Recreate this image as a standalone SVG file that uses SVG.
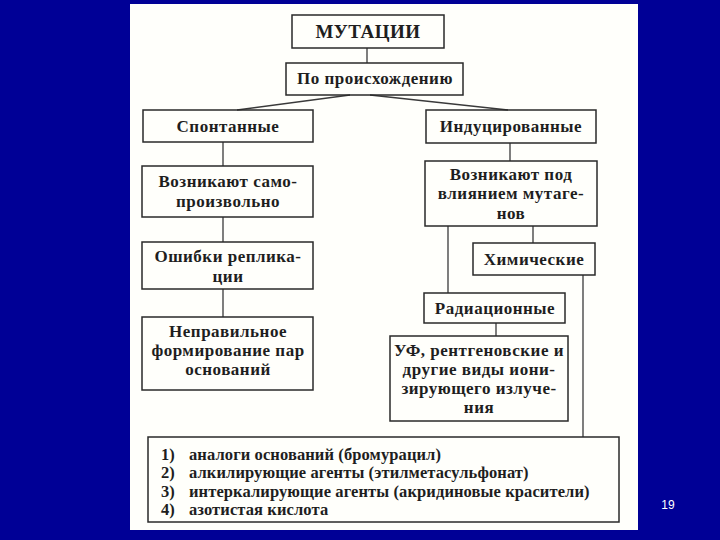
<svg xmlns="http://www.w3.org/2000/svg" width="720" height="540" viewBox="0 0 720 540">
<style>
.bx{fill:none;stroke:#2a2a2a;stroke-width:1.5}
.t{font-family:"Liberation Serif","Times New Roman",serif;font-weight:bold;font-size:17px;letter-spacing:0.5px;fill:#1e1e1e;text-anchor:middle}
.l{font-family:"Liberation Serif","Times New Roman",serif;font-weight:bold;font-size:16.5px;letter-spacing:0.1px;fill:#1e1e1e}
.c{fill:none;stroke:#3a3a3a;stroke-width:1.3}
</style>
<rect x="0" y="0" width="720" height="540" fill="#000096"/>
<rect x="130" y="4" width="508" height="526" fill="#fffffb"/>
<g id="connectors">
<line class="c" x1="367" y1="48" x2="367" y2="63"/>
<line class="c" x1="350" y1="95" x2="237" y2="110"/>
<line class="c" x1="370" y1="95" x2="508" y2="110"/>
<line class="c" x1="223" y1="142" x2="223" y2="166"/>
<line class="c" x1="223" y1="217" x2="223" y2="242"/>
<line class="c" x1="223" y1="289" x2="223" y2="317"/>
<line class="c" x1="510" y1="143" x2="510" y2="161"/>
<line class="c" x1="533" y1="226" x2="533" y2="243"/>
<line class="c" x1="448" y1="226" x2="448" y2="293"/>
<line class="c" x1="583" y1="275" x2="583" y2="437"/>
<line class="c" x1="496" y1="323" x2="496" y2="336"/>
</g>
<g id="mutacii"><rect class="bx" x="292" y="15" width="152" height="33"/><text class="t" x="368" y="38" style="font-size:19px">МУТАЦИИ</text></g>
<g id="proiskhozhdenie"><rect class="bx" x="286" y="63" width="177" height="32"/><text class="t" x="375" y="84">По происхождению</text></g>
<g id="spontannye"><rect class="bx" x="143" y="110" width="170" height="32"/><text class="t" x="228" y="132">Спонтанные</text></g>
<g id="inducirovannye"><rect class="bx" x="426" y="110" width="170" height="33"/><text class="t" x="511" y="132">Индуцированные</text></g>
<g id="samoproizvolno"><rect class="bx" x="142" y="166" width="171" height="51"/><text class="t" x="228" y="187">Возникают само-</text><text class="t" x="228" y="207">произвольно</text></g>
<g id="mutageny"><rect class="bx" x="425" y="161" width="172" height="65"/><text class="t" x="511" y="180">Возникают под</text><text class="t" x="511" y="199">влиянием мутаге-</text><text class="t" x="511" y="219">нов</text></g>
<g id="oshibki"><rect class="bx" x="142" y="242" width="171" height="47"/><text class="t" x="228" y="262">Ошибки реплика-</text><text class="t" x="228" y="282">ции</text></g>
<g id="nepravilnoe"><rect class="bx" x="142" y="317" width="171" height="73"/><text class="t" x="228" y="337">Неправильное</text><text class="t" x="228" y="356">формирование пар</text><text class="t" x="228" y="375">оснований</text></g>
<g id="khimicheskie"><rect class="bx" x="473" y="243" width="122" height="32"/><text class="t" x="534" y="265">Химические</text></g>
<g id="radiacionnye"><rect class="bx" x="424" y="293" width="141" height="30"/><text class="t" x="495" y="314">Радиационные</text></g>
<g id="uf"><rect class="bx" x="390" y="336" width="178" height="85"/><text class="t" x="479" y="356">УФ, рентгеновские и</text><text class="t" x="479" y="375">другие виды иони-</text><text class="t" x="479" y="394">зирующего излуче-</text><text class="t" x="479" y="413">ния</text></g>
<g id="spisok"><rect class="bx" x="148" y="437" width="471" height="85"/>
<text class="l" x="161" y="460">1)</text><text class="l" x="189" y="460">аналоги оснований (бромурацил)</text>
<text class="l" x="161" y="478">2)</text><text class="l" x="189" y="478">алкилирующие агенты (этилметасульфонат)</text>
<text class="l" x="161" y="497">3)</text><text class="l" x="189" y="497">интеркалирующие агенты (акридиновые красители)</text>
<text class="l" x="161" y="515">4)</text><text class="l" x="189" y="515">азотистая кислота</text>
</g>
<text x="668" y="509" font-family="Liberation Sans, Arial, sans-serif" font-size="12" fill="#ffffff" text-anchor="middle">19</text>
</svg>
